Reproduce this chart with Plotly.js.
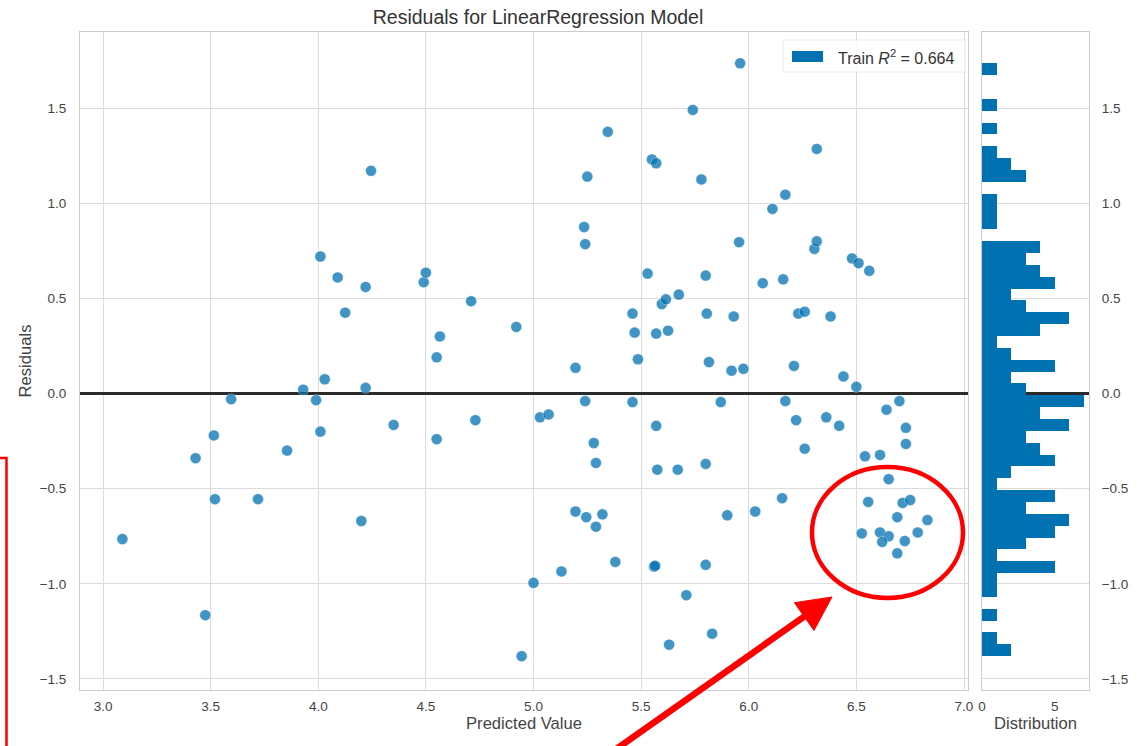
<!DOCTYPE html>
<html>
<head>
<meta charset="utf-8">
<script src="https://cdn.plot.ly/plotly-3.0.1.min.js"></script>
<style>
  html, body { margin: 0; padding: 0; background: #ffffff; }
  #chart { width: 1142px; height: 746px; }
</style>
</head>
<body>
<div id="chart"></div>
<script>
// Predicted values (x)
const predicted = [
  3.09, 3.43, 3.475, 3.515, 3.52, 3.595, 3.72, 3.855, 3.93, 3.99,
  4.01, 4.01, 4.03, 4.09, 4.125, 4.20, 4.22, 4.22, 4.245, 4.35,
  4.49, 4.50, 4.55, 4.55, 4.565, 4.71, 4.73, 4.92, 4.945, 5.00,
  5.03, 5.07, 5.13, 5.195, 5.195, 5.235, 5.24, 5.24, 5.245, 5.25,
  5.28, 5.29, 5.29, 5.32, 5.345, 5.38, 5.46, 5.46, 5.47, 5.485,
  5.53, 5.55, 5.57, 5.56, 5.565, 5.57, 5.575, 5.57, 5.596, 5.615,
  5.625, 5.63, 5.675, 5.67, 5.71, 5.74, 5.78, 5.80, 5.805, 5.80,
  5.80, 5.815, 5.83, 5.87, 5.90, 5.93, 5.92, 5.96, 5.955, 5.975,
  6.03, 6.065, 6.11, 6.155, 6.16, 6.17, 6.17, 6.21, 6.23, 6.22,
  6.26, 6.26, 6.305, 6.316, 6.316, 6.36, 6.38, 6.42, 6.44, 6.48,
  6.50, 6.51, 6.54, 6.56, 6.61, 6.64, 6.65, 6.555, 6.70, 6.715,
  6.75, 6.73, 6.73, 6.69, 6.83, 6.525, 6.61, 6.65, 6.785, 6.62,
  6.725, 6.69
];
// Residuals (y)
const residuals = [
  -0.765, -0.34, -1.165, -0.22, -0.555, -0.03, -0.555, -0.30, 0.02, -0.035,
  0.72, -0.20, 0.075, 0.61, 0.425, -0.67, 0.03, 0.56, 1.17, -0.165,
  0.585, 0.635, 0.19, -0.24, 0.30, 0.485, -0.14, 0.35, -1.38, -0.995,
  -0.125, -0.11, -0.935, 0.135, -0.62, 0.875, 0.785, -0.04, -0.65, 1.14,
  -0.26, -0.365, -0.70, -0.635, 1.375, -0.885, -0.045, 0.42, 0.32, 0.18,
  0.63, 1.23, -0.17, -0.91, -0.905, 1.21, -0.40, 0.315, 0.47, 0.495,
  0.33, -1.32, 0.52, -0.40, -1.06, 1.49, 1.125, 0.62, 0.42, -0.37,
  -0.90, 0.165, -1.262, -0.045, -0.64, 0.405, 0.12, 1.735, 0.795, 0.13,
  -0.62, 0.58, 0.97, -0.55, 0.60, 1.045, -0.04, 0.145, 0.42, -0.14,
  0.43, -0.29, 0.76, 0.80, 1.285, -0.125, 0.405, -0.17, 0.09, 0.71,
  0.035, 0.685, -0.33, 0.645, -0.323, -0.085, -0.45, -0.57, -0.04, -0.575,
  -0.56, -0.18, -0.265, -0.65, -0.665, -0.735, -0.73, -0.75, -0.73, -0.78,
  -0.775, -0.84
];
const xTicks = [3.0, 3.5, 4.0, 4.5, 5.0, 5.5, 6.0, 6.5, 7.0];
const yTicks = [-1.5, -1.0, -0.5, 0.0, 0.5, 1.0, 1.5];
const countTicks = [0, 5];
const titleText = 'Residuals for LinearRegression Model';
const legendText = 'Train <i>R</i><sup>2</sup> = 0.664';

const nBins = 50;
const rMin = Math.min(...residuals);
const rMax = Math.max(...residuals);
const binSize = (rMax - rMin) / nBins * 1.000001;

const FONT = '"Liberation Sans", Arial, Helvetica, sans-serif';
const GRID = '#dcdcdc';
const SPINE = '#cccccc';
const TXT = '#444444';
const BLUE = '#0072B2';
const RED = '#ff0000';
const yRange = [-1.558, 1.8997];

const traces = [
  {
    type: 'scatter', mode: 'markers',
    x: predicted, y: residuals,
    xaxis: 'x', yaxis: 'y',
    marker: { color: 'rgba(0,114,178,0.75)', size: 11, line: { color: 'rgba(255,255,255,0.6)', width: 0.6 } },
    showlegend: false, hoverinfo: 'x+y'
  },
  {
    type: 'histogram', orientation: 'h',
    y: residuals,
    xaxis: 'x2', yaxis: 'y2',
    ybins: { start: rMin, end: rMax + binSize, size: binSize },
    marker: { color: BLUE, line: { width: 0 } },
    showlegend: false
  }
];

function px2x(p) { return (p - 80) / 1009; }
function px2y(p) { return (690 - p) / 658; }
function pathPx(pts) {
  return 'M ' + pts.map(p => px2x(p[0]).toFixed(5) + ',' + px2y(p[1]).toFixed(5)).join(' L ') + ' Z';
}

// red arrow geometry (pixels): tip near the highlighted cluster, tail off the bottom edge
const tip = [832, 597];
const tail = [600, 760.5];
const dx = tail[0] - tip[0], dy = tail[1] - tip[1];
const len = Math.sqrt(dx * dx + dy * dy);
const ux = dx / len, uy = dy / len;
const headLen = 34, headHalf = 17;
const base = [tip[0] + headLen * ux, tip[1] + headLen * uy];
const nx = -uy, ny = ux;
const headPts = [tip, [base[0] + headHalf * nx, base[1] + headHalf * ny], [base[0] - headHalf * nx, base[1] - headHalf * ny]];

const layout = {
  width: 1142, height: 746,
  margin: { l: 80, r: 53, t: 32, b: 56 },
  paper_bgcolor: '#ffffff', plot_bgcolor: '#ffffff',
  font: { family: FONT, color: TXT, size: 14 },
  bargap: 0,
  title: {
    text: titleText,
    font: { family: FONT, size: 19.5, color: '#333333' },
    x: px2x(538), xref: 'paper', xanchor: 'center',
    y: 1 - 17 / 746, yref: 'container', yanchor: 'middle'
  },
  xaxis: {
    domain: [0, px2x(968)], range: [2.893, 7.0186],
    tickvals: xTicks, tickformat: '.1f',
    showgrid: true, gridcolor: GRID, gridwidth: 1,
    showline: true, mirror: true, linecolor: SPINE, linewidth: 1,
    zeroline: false, ticks: '', ticklabelstandoff: 4,
    tickfont: { size: 13.5, color: TXT },
    title: { text: 'Predicted Value', font: { size: 16.6, color: TXT }, standoff: 4 },
    fixedrange: true
  },
  yaxis: {
    domain: [0, 1], range: yRange,
    tickvals: yTicks, tickformat: '.1f',
    showgrid: true, gridcolor: GRID, gridwidth: 1,
    showline: true, mirror: true, linecolor: SPINE, linewidth: 1,
    zeroline: true, zerolinecolor: '#2a2a2a', zerolinewidth: 2.5,
    ticks: '', ticklabelstandoff: 10,
    tickfont: { size: 13.5, color: TXT },
    title: { text: 'Residuals', font: { size: 16.6, color: TXT }, standoff: 3 },
    fixedrange: true
  },
  xaxis2: {
    domain: [px2x(982), 1], range: [0, 7.35], anchor: 'y2',
    tickvals: countTicks,
    showgrid: false, zeroline: false,
    showline: true, mirror: true, linecolor: SPINE, linewidth: 1,
    ticks: '', ticklabelstandoff: 4,
    tickfont: { size: 13.5, color: TXT },
    title: { text: 'Distribution', font: { size: 16.6, color: TXT }, standoff: 4 },
    fixedrange: true
  },
  yaxis2: {
    domain: [0, 1], range: yRange, anchor: 'x2', side: 'right',
    tickvals: yTicks, tickformat: '.1f',
    showgrid: true, gridcolor: GRID, gridwidth: 1,
    showline: true, mirror: true, linecolor: SPINE, linewidth: 1,
    zeroline: true, zerolinecolor: '#2a2a2a', zerolinewidth: 2.5,
    ticks: '', ticklabelstandoff: 9,
    tickfont: { size: 13.5, color: TXT },
    fixedrange: true
  },
  shapes: [
    // legend frame
    { type: 'rect', xref: 'paper', yref: 'paper',
      x0: px2x(783), x1: px2x(965), y0: px2y(72), y1: px2y(40),
      fillcolor: 'rgba(255,255,255,0.8)', line: { color: 'rgba(0,0,0,0.08)', width: 1 } },
    // legend patch
    { type: 'rect', xref: 'paper', yref: 'paper',
      x0: px2x(792), x1: px2x(823), y0: px2y(62), y1: px2y(51),
      fillcolor: BLUE, line: { width: 0 } },
    // red ellipse highlight
    { type: 'circle', xref: 'paper', yref: 'paper',
      x0: px2x(812), x1: px2x(963), y0: px2y(598), y1: px2y(467),
      line: { color: RED, width: 4.5 } },
    // red frame at the left edge
    { type: 'rect', xref: 'paper', yref: 'paper',
      x0: px2x(-30), x1: px2x(6.5), y0: px2y(800), y1: px2y(458),
      line: { color: RED, width: 2.5 } },
    // red arrow shaft
    { type: 'line', xref: 'paper', yref: 'paper',
      x0: px2x(tail[0]), y0: px2y(tail[1]), x1: px2x(base[0] - 2 * ux), y1: px2y(base[1] - 2 * uy),
      line: { color: RED, width: 6.5 } },
    // red arrow head
    { type: 'path', xref: 'paper', yref: 'paper',
      path: pathPx(headPts), fillcolor: RED, line: { color: RED, width: 1 } }
  ],
  annotations: [
    { xref: 'paper', yref: 'paper', x: px2x(836), y: px2y(56.5),
      xanchor: 'left', yanchor: 'middle', showarrow: false,
      text: legendText, font: { size: 16, color: '#333333' } }
  ]
};

Plotly.newPlot('chart', traces, layout, { displayModeBar: false, staticPlot: true });
</script>
</body>
</html>
